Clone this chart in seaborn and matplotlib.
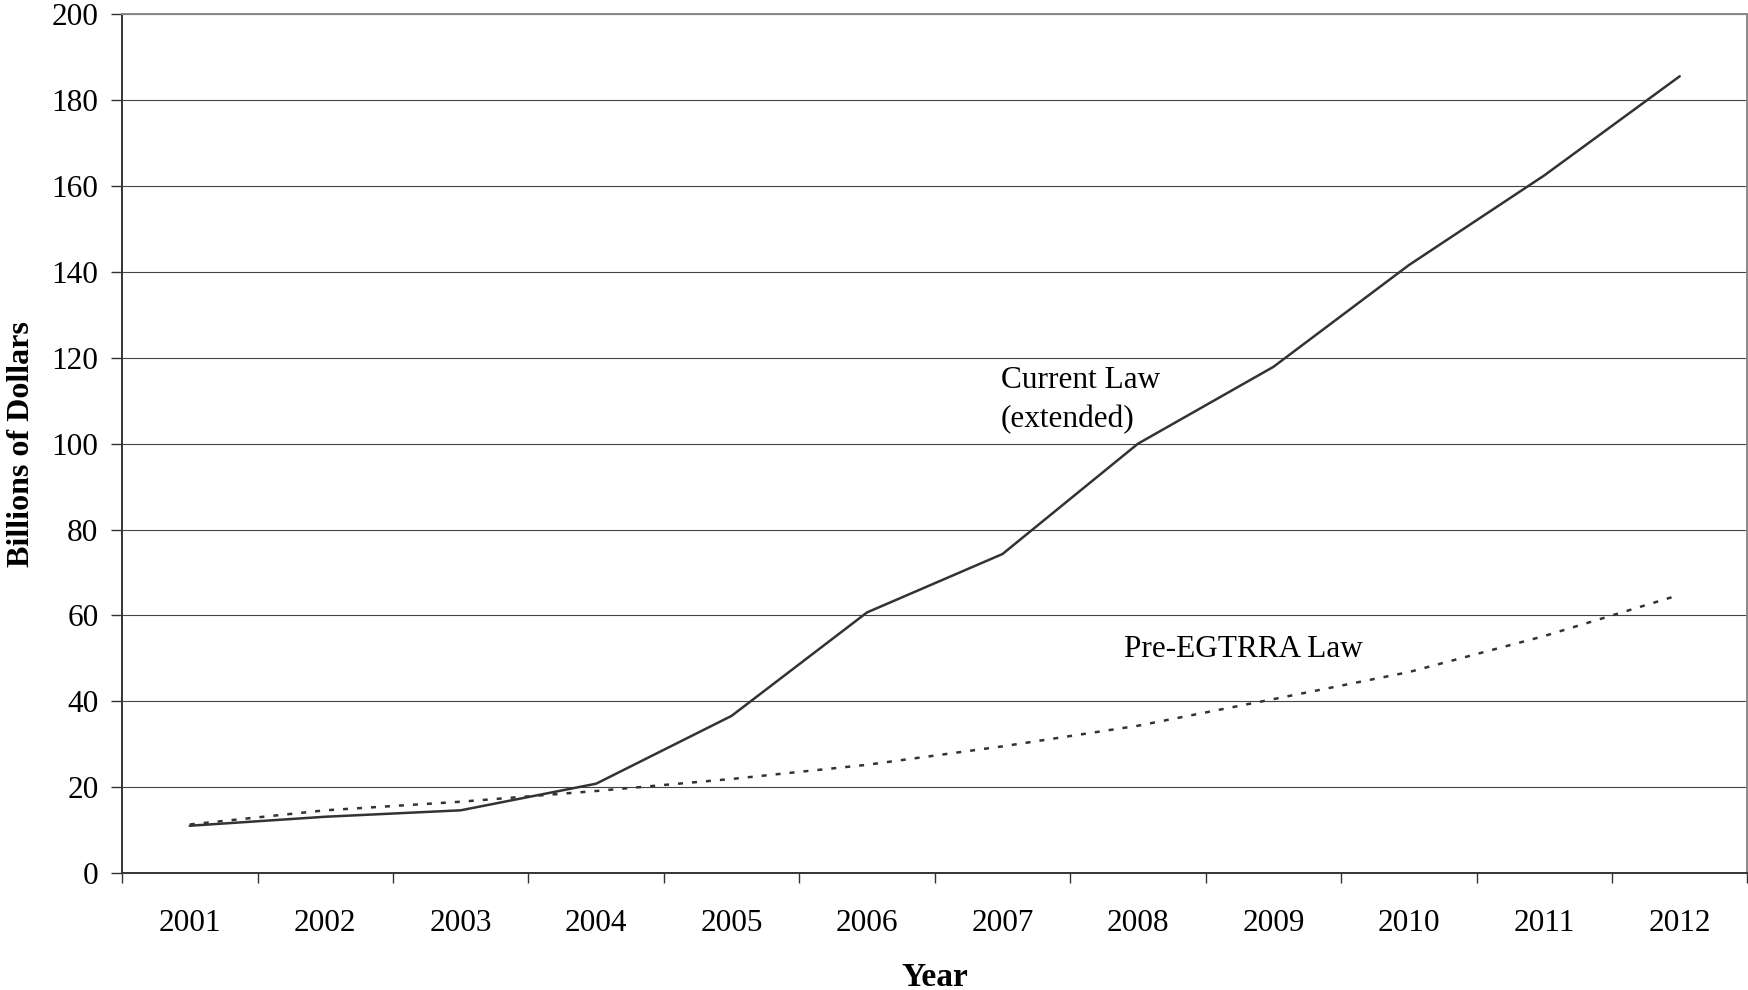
import matplotlib
matplotlib.use("Agg")
import matplotlib.pyplot as plt
from matplotlib.ticker import FixedLocator
import pandas as pd
import seaborn as sns

# Tax revenue under the two regimes, billions of dollars
years = [2001, 2002, 2003, 2004, 2005, 2006, 2007, 2008, 2009, 2010, 2011, 2012]
current_law = [11.0, 13.1, 14.6, 20.8, 36.6, 60.7, 74.3, 100.0, 117.9, 141.6, 162.5, 185.6]
pre_egtrra = [11.3, 14.6, 16.6, 19.1, 21.9, 25.2, 29.5, 34.3, 40.5, 46.8, 55.2, 64.8]
y_ticks = [0, 20, 40, 60, 80, 100, 120, 140, 160, 180, 200]

series_current = "Current Law (extended)"
series_pre = "Pre-EGTRRA Law"

df = pd.concat([
    pd.DataFrame({"Year": years, "Value": current_law, "Series": series_current}),
    pd.DataFrame({"Year": years, "Value": pre_egtrra, "Series": series_pre}),
])

sns.set_theme(style="white")
plt.rcParams["font.family"] = ["Liberation Serif", "DejaVu Serif"]

ink = "#333333"
fig = plt.figure(figsize=(17.49, 9.90), dpi=100)
ax = fig.add_axes([0.0698, 0.1182, 0.9293, 0.8672])

sns.lineplot(
    data=df, x="Year", y="Value", hue="Series", style="Series",
    palette={series_current: ink, series_pre: ink},
    dashes={series_current: "", series_pre: (2.0, 3.6)},
    linewidth=1.8, legend=False, ax=ax, zorder=3,
)

ax.set_xlim(years[0] - 0.5, years[-1] + 0.5)
ax.set_ylim(y_ticks[0], y_ticks[-1])

# Horizontal gridlines at every y tick
ax.yaxis.set_major_locator(FixedLocator(y_ticks))
ax.grid(axis="y", color="#444444", linewidth=0.8)
ax.grid(axis="x", visible=False)

# Year labels sit between the tick marks at category boundaries
ax.xaxis.set_major_locator(FixedLocator(years))
ax.xaxis.set_minor_locator(FixedLocator([y - 0.5 for y in years] + [years[-1] + 0.5]))
ax.set_xticklabels([str(y) for y in years])
ax.tick_params(axis="x", which="major", length=0, pad=26, labelsize=22.5, labelcolor="black")
ax.tick_params(axis="x", which="minor", bottom=True, direction="out", length=7.5,
               width=1.0, color=ink)
ax.tick_params(axis="y", which="major", left=True, direction="out", length=8, width=1.0,
               color=ink, pad=9, labelsize=22.5, labelcolor="black")

for side in ("left", "bottom"):
    ax.spines[side].set_color(ink)
    ax.spines[side].set_linewidth(1.4)
for side in ("top", "right"):
    ax.spines[side].set_color("#888888")
    ax.spines[side].set_linewidth(1.4)

ax.set_xlabel("Year", fontsize=24, fontweight="bold", color="black")
ax.set_ylabel("Billions of Dollars", fontsize=23, fontweight="bold", color="black")
ax.xaxis.set_label_coords(0.5, -0.104)
ax.yaxis.set_label_coords(-0.053, 0.5)

# Series annotations
ax.text(2006.99, 112.9, "Current Law", fontsize=22.5, color="black", va="baseline", ha="left")
ax.text(2006.99, 103.8, "(extended)", fontsize=22.5, color="black", va="baseline", ha="left")
ax.text(2007.9, 50.4, "Pre-EGTRRA Law", fontsize=22.5, color="black", va="baseline", ha="left")

fig.savefig("out.png", dpi=100)
